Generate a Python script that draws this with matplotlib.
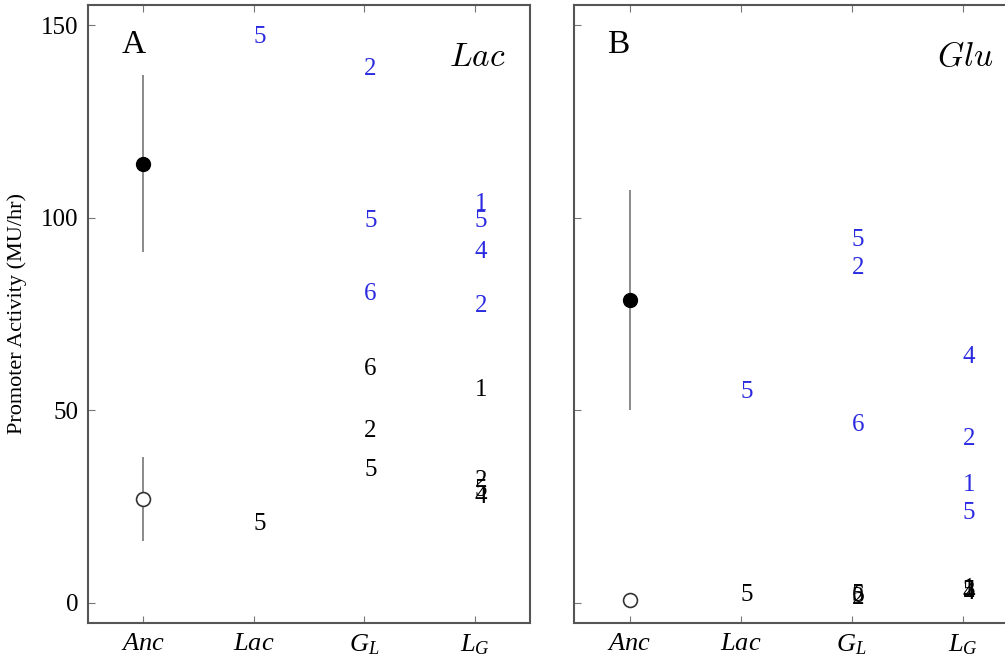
import matplotlib
matplotlib.use("Agg")
import matplotlib.pyplot as plt
from matplotlib.font_manager import FontProperties

plt.rcParams['font.family'] = ['Liberation Serif', 'DejaVu Serif']
plt.rcParams['mathtext.fontset'] = 'custom'
plt.rcParams['mathtext.rm'] = 'Liberation Serif'
plt.rcParams['mathtext.it'] = 'Liberation Serif:italic'

# Strain groups on the x axis
groups = [r'$Anc$', r'$Lac$', r'$G_L$', r'$L_G$']
yticks = [0, 50, 100, 150]

# Ancestor means (filled = induced, open = basal) with error half-widths
lac_anc_induced, lac_anc_induced_err = 114.0, 23.0
lac_anc_basal, lac_anc_basal_err = 27.0, 11.0
glu_anc_induced, glu_anc_induced_err = 78.6, 28.5
glu_anc_basal, glu_anc_basal_err = 0.8, 1.2

# Evolved lines: group index, replicate id, activity
lac_induced_group = [2, 3, 3, 3, 4, 4, 4, 4]
lac_induced_id = ['5', '2', '5', '6', '1', '5', '4', '2']
lac_induced_val = [147.0, 138.6, 99.1, 80.2, 103.6, 99.1, 91.1, 77.1]

lac_basal_group = [2, 3, 3, 3, 4, 4, 4, 4]
lac_basal_id = ['5', '6', '2', '5', '1', '2', '5', '4']
lac_basal_val = [20.5, 60.7, 44.6, 34.5, 55.3, 31.7, 29.3, 27.5]

glu_induced_group = [2, 3, 3, 3, 4, 4, 4, 4]
glu_induced_id = ['5', '5', '2', '6', '4', '2', '1', '5']
glu_induced_val = [54.8, 94.2, 86.9, 46.2, 63.8, 42.6, 30.6, 23.4]

glu_basal_group = [2, 3, 3, 3, 4, 4, 4, 4]
glu_basal_id = ['5', '6', '2', '5', '1', '2', '5', '4']
glu_basal_val = [2.1, 1.8, 1.4, 2.0, 3.6, 3.2, 3.0, 2.6]

BLUE = '#2a2ae0'
SPINE = '#555555'

fig = plt.figure(figsize=(10.05, 6.59), dpi=100)
ax_a = fig.add_axes([88 / 1005, 36 / 659, 442 / 1005, 618 / 659])
ax_b = fig.add_axes([574 / 1005, 36 / 659, 444 / 1005, 618 / 659])

tick_fp = FontProperties(family='Liberation Serif', size=19, math_fontfamily='custom')


def draw_panel(ax, letter, medium, anc_i, anc_i_err, anc_b, anc_b_err,
               ig, iid, ival, bg, bid, bval, show_ylabels):
    ax.set_xlim(0.5, 4.5)
    ax.set_ylim(-5.2, 155.2)
    ax.errorbar([1], [anc_i], yerr=[anc_i_err], fmt='o', color='black',
                ecolor='#777777', elinewidth=1.2, capsize=0, markersize=10, zorder=3)
    ax.errorbar([1], [anc_b], yerr=[anc_b_err], fmt='o', mfc='white', mec='#333333',
                mew=1.2, ecolor='#777777', elinewidth=1.2, capsize=0, markersize=10, zorder=3)
    for g, s, v in zip(ig, iid, ival):
        ax.text(g, v, s, color=BLUE, fontsize=18, ha='left', va='center')
    for g, s, v in zip(bg, bid, bval):
        ax.text(g, v, s, color='black', fontsize=18, ha='left', va='center')

    ax.text(0.075, 0.935, letter, transform=ax.transAxes, fontsize=24,
            ha='left', va='center')
    ax.text(0.945, 0.915, medium, transform=ax.transAxes, fontsize=24,
            ha='right', va='center', math_fontfamily='cm')

    ax.set_xticks([1, 2, 3, 4])
    ax.set_xticklabels(groups, fontproperties=tick_fp)
    ax.set_yticks(yticks)
    if show_ylabels:
        ax.set_yticklabels([str(t) for t in yticks], fontsize=18)
    else:
        ax.set_yticklabels([])
    ax.tick_params(direction='in', length=5, width=0.8, color='#777777',
                   top=True, bottom=True, left=True, right=False, pad=7)
    for sp in ax.spines.values():
        sp.set_color(SPINE)
        sp.set_linewidth(1.5)


draw_panel(ax_a, 'A', r'$Lac$', lac_anc_induced, lac_anc_induced_err,
           lac_anc_basal, lac_anc_basal_err,
           lac_induced_group, lac_induced_id, lac_induced_val,
           lac_basal_group, lac_basal_id, lac_basal_val, True)
draw_panel(ax_b, 'B', r'$Glu$', glu_anc_induced, glu_anc_induced_err,
           glu_anc_basal, glu_anc_basal_err,
           glu_induced_group, glu_induced_id, glu_induced_val,
           glu_basal_group, glu_basal_id, glu_basal_val, False)

ax_a.set_ylabel('Promoter Activity (MU/hr)', fontsize=16, labelpad=10)

fig.savefig('out.png', dpi=100)
